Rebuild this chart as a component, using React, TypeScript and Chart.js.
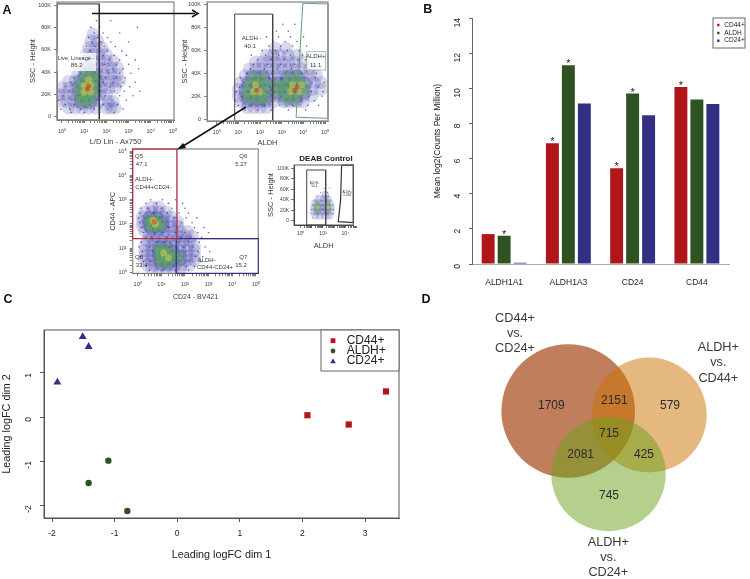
import React, { useEffect, useRef } from "react";
import { Chart, registerables } from "chart.js";

Chart.register(...registerables);
Chart.defaults.font.family = '"Liberation Sans", Arial, sans-serif';

type Row = [number, number[]];
type Box = { l: number; t: number; r: number; b: number };
type Note = { text: string; x: number; y: number; size: number; bold?: boolean; color?: string; rot?: boolean };

/* ---------- Panel B data ---------- */
const genes = ["ALDH1A1", "ALDH1A3", "CD24", "CD44"];
const barCd44 = [1.7, 6.87, 5.45, 10.08];
const barAldh = [1.61, 11.31, 9.7, 9.36];
const barCd24 = [0.07, 9.14, 8.46, 9.1];
const starCd44 = [false, true, true, true];
const starAldh = [true, true, true, false];
const starCd24 = [false, false, false, false];
const barTicks = [0, 2, 4, 6, 8, 10, 12, 14];

/* ---------- Panel C data ---------- */
const mdsCd44 = [{ x: 2.08, y: 0.04 }, { x: 2.74, y: -0.17 }, { x: 3.335, y: 0.58 }];
const mdsAldh = [{ x: -1.1, y: -0.99 }, { x: -1.415, y: -1.497 }, { x: -0.797, y: -2.13 }];
const mdsCd24 = [{ x: -1.51, y: 1.82 }, { x: -1.415, y: 1.594 }, { x: -1.915, y: 0.787 }];

/* ---------- Panel D data ---------- */
const vennCounts = [1709, 2151, 579, 715, 2081, 425, 745];
const vennCircles = [{ x: 138.2, y: 116 }, { x: 219.2, y: 120 }, { x: 178.5, y: 179 }];

/* ---------- Panel A data: x in decades, y in thousands (or decades for the CD44/CD24 plot) ---------- */
const liveHaze: Row[] = [
  [8, [0.3, 0.6, 0.9, 1.2, 1.5, 2.0, 2.2, 2.4]],
  [14, [-0.1, 0.2, 0.5, 0.8, 1.1, 1.4, 1.7, 2.1, 2.3]],
  [20, [-0.1, 0.2, 0.5, 0.8, 1.1, 1.4, 1.7, 2.0]],
  [26, [0, 0.3, 0.6, 0.9, 1.2, 1.5, 1.8, 2.1, 2.4]],
  [32, [0.3, 0.6, 0.9, 1.2, 1.5, 1.8, 2.1, 2.4, 2.6]],
  [38, [0.7, 1.0, 1.3, 1.6, 1.9, 2.2, 2.5]],
  [44, [1.0, 1.3, 1.6, 1.9, 2.2, 2.5]],
  [50, [1.1, 1.4, 1.7, 2.0, 2.3]],
  [56, [1.1, 1.4, 1.7, 2.0]],
  [62, [1.2, 1.5, 1.8]],
  [68, [1.3, 1.6]],
  [74, [1.4]],
];
const liveSpecks: Row[] = [
  [4, [0.4, 1.0, 1.7, 2.35]], [7, [-0.05, 0.35, 0.85, 1.45, 2.05, 2.75]], [11, [0.15, 0.55, 1.25, 1.85, 2.5]],
  [15, [-0.15, 0.45, 1.0, 1.6, 2.25, 2.9]], [19, [0.05, 0.7, 1.3, 1.95, 2.6, 3.2]], [23, [-0.1, 0.3, 0.95, 1.75, 2.35, 2.8, 3.5]],
  [27, [0.15, 0.65, 1.55, 2.15, 2.65, 3.05]], [31, [0.4, 1.05, 1.85, 2.3, 2.75, 3.3]], [35, [0.55, 1.25, 1.95, 2.45, 2.85]],
  [39, [0.85, 1.5, 2.1, 2.6, 3.1]], [43, [1.05, 1.7, 2.3, 2.75, 3.45]], [47, [0.95, 1.35, 1.9, 2.45, 3.0]],
  [51, [1.2, 1.65, 2.15, 2.6, 3.3]], [55, [1.0, 1.45, 1.85, 2.35, 2.9]], [59, [1.25, 1.7, 2.05, 2.7]],
  [63, [1.1, 1.5, 1.9, 2.4]], [67, [1.35, 1.75, 2.2, 3.0]], [71, [1.2, 1.6, 2.05]], [75, [1.45, 1.85, 2.6]],
  [80, [1.3, 1.7, 3.4]], [86, [1.55, 2.2]],
];
const liveGreen: Row[] = [[14, [0.9, 1.2]], [20, [0.8, 1.1, 1.4]], [26, [0.8, 1.1, 1.4]], [32, [0.9, 1.2, 1.5]], [38, [1.1, 1.4]]];
const liveYellow: Row[] = [[22, [1.0, 1.3]], [28, [1.0, 1.3]], [33, [1.2]]];
const liveRed: Row[] = [[25, [1.15]], [28, [1.2]]];
const liveGate = [{ x: -0.225, y: 101 }, { x: 1.68, y: 101 }, { x: 1.68, y: -2.7 }, { x: -0.225, y: -2.7 }, { x: -0.225, y: 101 }];

const aldhHaze: Row[] = [
  [10, [1.4, 1.7, 2.0, 2.3]],
  [15, [1.1, 1.4, 1.7, 2.0, 2.3, 2.6, 3.1, 3.4, 3.7, 4.0]],
  [20, [1.0, 1.3, 1.6, 1.9, 2.2, 2.5, 2.8, 3.1, 3.4, 3.7, 4.0, 4.4]],
  [26, [1.0, 1.3, 1.6, 1.9, 2.2, 2.5, 2.8, 3.1, 3.4, 3.7, 4.0, 4.4, 4.8]],
  [32, [1.1, 1.4, 1.7, 2.0, 2.3, 2.6, 2.9, 3.2, 3.5, 3.8, 4.1, 4.5, 4.8]],
  [38, [1.3, 1.6, 1.9, 2.2, 2.5, 2.8, 3.1, 3.4, 3.7, 4.0, 4.3, 4.6]],
  [44, [1.5, 1.8, 2.1, 2.4, 2.7, 3.0, 3.3, 3.6, 3.9, 4.3]],
  [50, [1.8, 2.1, 2.4, 2.7, 3.0, 3.3, 3.6, 4.0]],
  [56, [2.3, 2.6, 2.9, 3.3, 3.7]],
  [62, [2.7, 3.2]],
];
const aldhSpecks: Row[] = [
  [8, [1.3, 1.9, 2.5, 3.3, 4.1]], [12, [1.0, 1.6, 2.2, 2.9, 3.5, 4.2, 4.7]], [16, [0.85, 1.35, 2.05, 2.55, 3.15, 3.85, 4.5]],
  [20, [1.15, 1.75, 2.35, 2.95, 3.55, 4.25, 4.85]], [24, [0.9, 1.5, 2.65, 3.05, 4.35, 4.9]], [28, [1.05, 1.65, 2.45, 2.85, 4.15, 4.7]],
  [32, [1.25, 2.15, 2.7, 3.25, 4.4, 4.95]], [36, [1.1, 1.85, 2.4, 3.0, 3.75, 4.55]], [40, [1.4, 2.0, 2.55, 3.2, 3.9, 4.6]],
  [44, [1.55, 2.2, 2.8, 3.45, 4.2]], [48, [1.7, 2.35, 2.95, 3.6, 4.35]], [52, [1.9, 2.5, 3.1, 3.75, 4.1]],
  [56, [1.6, 2.25, 2.85, 3.4, 3.95]], [60, [2.1, 2.7, 3.25, 3.8]], [64, [2.4, 2.95, 3.5, 4.15]], [68, [2.6, 3.15, 3.7]],
  [72, [2.3, 2.85, 3.4, 4.0]], [77, [2.75, 3.3]], [83, [3.05, 3.6]],
];
const aldhGreen: Row[] = [
  [18, [1.5, 1.9, 2.2, 3.2, 3.6]], [24, [1.4, 1.8, 2.2, 2.8, 3.2, 3.6, 4.0]],
  [30, [1.5, 1.9, 2.3, 2.8, 3.2, 3.6, 4.0]], [36, [1.7, 2.1, 3.3, 3.7]],
];
const aldhYellow: Row[] = [[24, [1.7, 2.0, 3.4, 3.8]], [30, [1.8, 3.5, 3.9]]];
const aldhRed: Row[] = [[25, [1.85, 3.6]], [28, [3.7]]];
const aldhLowGate = [{ x: 0.83, y: 92 }, { x: 2.58, y: 92 }, { x: 2.58, y: -1.75 }, { x: 0.83, y: -1.75 }, { x: 0.83, y: 92 }];
const aldhHighGate = [{ x: 3.97, y: 101.5 }, { x: 5.13, y: 100.9 }, { x: 5.13, y: 0.6 }, { x: 3.66, y: 1.5 }, { x: 3.97, y: 101.5 }];

const quadHaze: Row[] = [
  [2.7, [0.6, 0.9]], [2.5, [0.3, 0.6, 0.9, 1.2]], [2.3, [0.2, 0.5, 0.8, 1.1, 1.4]], [2.1, [0.2, 0.5, 0.8, 1.1, 1.4, 1.7]],
  [1.9, [0.2, 0.5, 0.8, 1.1, 1.4, 1.7]], [1.7, [0.3, 0.6, 0.9, 1.2, 1.5, 1.8, 2.1]], [1.5, [0.5, 0.8, 1.1, 1.4, 1.7, 2.0, 2.3]],
  [1.3, [0.4, 0.7, 1.0, 1.3, 1.6, 1.9, 2.2]], [1.1, [0.3, 0.6, 0.9, 1.2, 1.5, 1.8, 2.1, 2.4]], [0.9, [0.3, 0.6, 0.9, 1.2, 1.5, 1.8, 2.1, 2.4]],
  [0.7, [0.3, 0.6, 0.9, 1.2, 1.5, 1.8, 2.1, 2.4]], [0.5, [0.3, 0.6, 0.9, 1.2, 1.5, 1.8, 2.1, 2.4]], [0.3, [0.4, 0.7, 1.0, 1.3, 1.6, 1.9, 2.2]],
  [0.1, [0.6, 0.9, 1.2, 1.5, 1.8]],
];
const quadSpecks: Row[] = [
  [3.0, [0.55, 1.05, 1.6]], [2.85, [0.35, 0.8, 1.3, 1.9]], [2.65, [0.15, 0.45, 1.0, 1.45, 2.0]], [2.45, [0.1, 0.7, 1.25, 1.75, 2.15]],
  [2.25, [0.05, 0.35, 0.95, 1.55, 2.05, 2.5]], [2.05, [0.1, 0.4, 1.2, 1.85, 2.3]], [1.85, [0.15, 0.65, 1.3, 1.65, 2.4, 2.8]],
  [1.65, [0.25, 0.7, 1.05, 1.6, 2.0, 2.55, 3.0]], [1.45, [0.35, 0.6, 1.25, 1.85, 2.25, 2.7]], [1.25, [0.15, 0.85, 1.15, 1.75, 2.15, 2.6]],
  [1.05, [0.05, 0.5, 1.35, 1.95, 2.35, 2.85]], [0.85, [0.2, 0.65, 1.05, 1.65, 2.05, 2.55, 3.05]], [0.65, [0.1, 0.75, 1.4, 1.95, 2.45, 2.75]],
  [0.45, [0.25, 0.55, 1.15, 1.75, 2.2, 2.65]], [0.25, [0.35, 0.95, 1.5, 2.05, 2.4]], [0.08, [0.5, 1.05, 1.6, 2.15]],
];
const quadGreen: Row[] = [
  [2.2, [0.5, 0.8]], [2.0, [0.5, 0.8, 1.0]], [1.85, [0.6, 0.9]], [1.0, [0.9, 1.2]], [0.8, [0.9, 1.2, 1.5]],
  [0.6, [0.9, 1.2, 1.5, 1.8]], [0.4, [1.0, 1.3]],
];
const quadYellow: Row[] = [[2.15, [0.65]], [2.0, [0.75]], [0.8, [1.1]], [0.6, [1.3]]];
const quadRed: Row[] = [[2.08, [0.7]]];
const gateQ5 = [{ x: -0.21, y: 1.39 }, { x: 1.66, y: 1.39 }, { x: 1.66, y: 5.1 }, { x: -0.21, y: 5.1 }, { x: -0.21, y: 1.39 }];
const gateQ6 = [{ x: 1.66, y: 1.39 }, { x: 5.1, y: 1.39 }, { x: 5.1, y: 5.1 }, { x: 1.66, y: 5.1 }];
const gateQ7 = [{ x: 1.63, y: 1.39 }, { x: 5.1, y: 1.39 }, { x: 5.1, y: -0.04 }, { x: 1.63, y: -0.04 }, { x: 1.63, y: 1.39 }];
const gateQ8 = [{ x: -0.21, y: 1.39 }, { x: -0.21, y: -0.04 }, { x: 1.63, y: -0.04 }];

const deabHaze: Row[] = [
  [10, [1.3, 1.7, 2.2, 2.6]], [18, [1.2, 1.5, 1.8, 2.1, 2.4, 2.7]], [26, [1.2, 1.5, 1.8, 2.1, 2.4, 2.7]],
  [34, [1.3, 1.6, 2.0, 2.3, 2.6]], [42, [1.6, 2.1, 2.4]], [50, [2.2]],
];
const deabSpecks: Row[] = [
  [6, [1.1, 1.9, 2.6]], [14, [0.9, 1.6, 2.3, 2.9]], [22, [1.0, 2.0, 2.95]], [30, [1.05, 1.95, 2.9]],
  [38, [1.2, 1.9, 2.7]], [46, [1.5, 2.0, 2.5]], [54, [1.8, 2.4]], [62, [2.1, 2.6]], [70, [2.3]],
];
const deabGreen: Row[] = [[22, [1.5, 2.4]], [30, [1.5, 2.4]]];
const deabYellow: Row[] = [[26, [1.5, 2.45]]];
const deabLowGate = [{ x: 0.54, y: 96.8 }, { x: 2.24, y: 96.8 }, { x: 2.24, y: -7.6 }, { x: 0.54, y: -7.6 }, { x: 0.54, y: 96.8 }];
const deabHighGate = [{ x: 3.67, y: 106 }, { x: 4.72, y: 106 }, { x: 4.72, y: -3 }, { x: 3.37, y: -1.3 }, { x: 3.58, y: 40 }, { x: 3.67, y: 106 }];

const kTicks = [0, 20, 40, 60, 80, 100];
const supers = ["⁰", "¹", "²", "³", "⁴", "⁵"];

const expand = (rows: Row[]) => rows.flatMap(([y, xs]) => xs.map((x) => ({ x, y })));
const decadeTicks = () => {
  const out: { value: number }[] = [];
  for (let d = 0; d < 5; d++) for (let m = 1; m < 10; m++) out.push({ value: d + Math.log10(m) });
  out.push({ value: 5 });
  return out;
};

const RED = "#B01519";
const GREEN = "#2F5223";
const BLUE = "#333083";
const TEXT = "#3a3a3a";

function notesPlugin(items: Note[], box: Box) {
  return {
    id: "notes",
    afterDraw(chart: any) {
      const c = chart.ctx;
      c.save();
      c.textAlign = "center";
      c.textBaseline = "middle";
      for (const n of items) {
        c.save();
        c.translate(n.x - box.l, n.y - box.t);
        if (n.rot) c.rotate(-Math.PI / 2);
        c.font = `${n.bold ? "bold " : ""}${n.size}px "Liberation Sans", Arial, sans-serif`;
        c.fillStyle = n.color || TEXT;
        c.fillText(n.text, 0, 0);
        c.restore();
      }
      c.restore();
    },
  };
}

function whiteBoxPlugin(bx: Box, box: Box, stroke?: string) {
  return {
    id: "whiteBox",
    afterDatasetsDraw(chart: any) {
      const c = chart.ctx;
      c.save();
      c.fillStyle = "rgba(255,255,255,0.78)";
      c.fillRect(bx.l - box.l, bx.t - box.t, bx.r - bx.l, bx.b - bx.t);
      if (stroke) {
        c.strokeStyle = stroke;
        c.lineWidth = 0.8;
        c.strokeRect(bx.l - box.l, bx.t - box.t, bx.r - bx.l, bx.b - bx.t);
      }
      c.restore();
    },
  };
}

function framePlugin(color: string, width: number) {
  return {
    id: "frame",
    afterDatasetsDraw(chart: any) {
      const { left, top, right, bottom } = chart.chartArea;
      const c = chart.ctx;
      c.save();
      c.strokeStyle = color;
      c.lineWidth = width;
      c.strokeRect(left, top, right - left, bottom - top);
      c.restore();
    },
  };
}

function legendPlugin(o: { b: Box; box: Box; textX: number; markX: number; rows: number[]; size: number; mark: number; stroke: string; lw: number }) {
  return {
    id: "boxLegend",
    afterDraw(chart: any) {
      const c = chart.ctx;
      const ox = o.box.l;
      const oy = o.box.t;
      c.save();
      c.fillStyle = "#fff";
      c.fillRect(o.b.l - ox, o.b.t - oy, o.b.r - o.b.l, o.b.b - o.b.t);
      c.strokeStyle = o.stroke;
      c.lineWidth = o.lw;
      c.strokeRect(o.b.l - ox, o.b.t - oy, o.b.r - o.b.l, o.b.b - o.b.t);
      c.textBaseline = "middle";
      c.textAlign = "left";
      c.font = `${o.size}px "Liberation Sans", Arial, sans-serif`;
      chart.data.datasets.forEach((d: any, i: number) => {
        const y = o.rows[i] - oy;
        const x = o.markX - ox;
        const s = o.mark;
        c.fillStyle = d.backgroundColor;
        c.beginPath();
        if (d.legendMark === "circle") c.arc(x, y, s, 0, 7);
        else if (d.legendMark === "tri") {
          c.moveTo(x, y - s * 1.1);
          c.lineTo(x + s * 1.15, y + s * 0.9);
          c.lineTo(x - s * 1.15, y + s * 0.9);
          c.closePath();
        } else c.rect(x - s, y - s, 2 * s, 2 * s);
        c.fill();
        c.fillStyle = "#222";
        c.fillText(d.label, o.textX - ox, y);
      });
      c.restore();
    },
  };
}

const starPlugin = {
  id: "stars",
  afterDatasetsDraw(chart: any) {
    const c = chart.ctx;
    c.save();
    c.textAlign = "center";
    c.textBaseline = "middle";
    c.font = '11px "Liberation Sans", Arial, sans-serif';
    c.fillStyle = "#222";
    chart.data.datasets.forEach((d: any, i: number) => {
      chart.getDatasetMeta(i).data.forEach((bar: any, j: number) => {
        if (d.stars[j]) c.fillText("*", bar.x, bar.y - 1);
      });
    });
    c.restore();
  },
};

type Layer = { rows: Row[]; r: number; color: string };

function flowConfig(s: {
  box: Box; plot: Box; xr: [number, number]; yr: [number, number];
  gates: { data: any[]; color: string; w: number }[];
  layers: Layer[]; xTitle: string; yTitle: string; xTitleY: number; yTitleX: number;
  yTicks: "k" | "dec"; xStep: number; tickSize: number; titleSize: number; xPad: number; yPad: number;
  notes: Note[]; extra: any[];
}) {
  const lh = s.titleSize * 1.2;
  const tickColor = "#333";
  return {
    type: "scatter",
    data: {
      datasets: [
        ...s.gates.map((g) => ({ data: g.data, showLine: true, borderColor: g.color, borderWidth: g.w, pointRadius: 0, clip: false, tension: 0 })),
        ...s.layers.map((l) => ({ data: expand(l.rows), pointRadius: l.r, backgroundColor: l.color, borderWidth: 0, pointHoverRadius: l.r })),
      ],
    },
    plugins: [...s.extra, notesPlugin(s.notes, s.box)],
    options: {
      animation: false,
      responsive: false,
      events: [],
      layout: { autoPadding: false, padding: { top: s.plot.t - s.box.t, right: s.box.r - s.plot.r, left: 0, bottom: 0 } },
      plugins: { legend: { display: false }, tooltip: { enabled: false } },
      scales: {
        x: {
          type: "linear", min: s.xr[0], max: s.xr[1],
          afterBuildTicks: (a: any) => { a.ticks = decadeTicks(); },
          afterFit: (a: any) => { a.height = s.box.b - s.plot.b; },
          border: { color: tickColor },
          grid: { drawOnChartArea: false, tickLength: 3, color: "#444", lineWidth: 0.7 },
          ticks: {
            autoSkip: false, maxRotation: 0, padding: s.xPad, color: TEXT, font: { size: s.tickSize },
            callback: (v: number) => (Number.isInteger(v) && v % s.xStep === 0 ? "10" + supers[v] : ""),
          },
          title: { display: true, text: s.xTitle, color: TEXT, font: { size: s.titleSize }, padding: { top: 0, bottom: s.box.b - s.xTitleY - lh / 2 } },
        },
        y: {
          type: "linear", min: s.yr[0], max: s.yr[1],
          afterBuildTicks: (a: any) => { a.ticks = s.yTicks === "k" ? kTicks.map((value) => ({ value })) : decadeTicks(); },
          afterFit: (a: any) => { a.width = s.plot.l - s.box.l; },
          border: { color: tickColor },
          grid: { drawOnChartArea: false, tickLength: 3, color: "#444", lineWidth: 0.7 },
          ticks: {
            autoSkip: false, padding: s.yPad, color: TEXT, font: { size: s.tickSize },
            callback: (v: number) => s.yTicks === "k" ? (v === 0 ? "0" : v + "K") : Number.isInteger(v) ? "10" + supers[v] : "",
          },
          title: { display: true, text: s.yTitle, color: TEXT, font: { size: s.titleSize }, padding: { top: s.yTitleX - s.box.l - lh / 2, bottom: 0 } },
        },
      },
    },
  };
}

const haze = "rgba(58,58,165,0.2)";
const core = "rgba(50,50,160,0.22)";
const speck = "rgba(35,35,150,0.7)";
const green = "rgba(95,175,95,0.5)";
const yellow = "rgba(226,205,70,0.5)";
const redHot = "rgba(215,60,30,0.6)";

const boxes: Record<string, Box> = {
  live: { l: 0, t: -12, r: 190, b: 152 },
  aldh: { l: 173, t: -12, r: 345, b: 154 },
  quad: { l: 100, t: 137, r: 272, b: 305 },
  deab: { l: 262, t: 150, r: 366, b: 256 },
  bars: { l: 420, t: 0, r: 750, b: 292 },
  mds: { l: 0, t: 290, r: 415, b: 572 },
  venn: { l: 420, t: 290, r: 750, b: 579 },
};

const liveCfg = () =>
  flowConfig({
    box: boxes.live, plot: { l: 57, t: 2, r: 174, b: 120 }, xr: [-0.225, 5.045], yr: [-2.7, 102.7],
    gates: [{ data: liveGate, color: "#333", w: 1 }],
    layers: [
      { rows: liveRed, r: 2.5, color: redHot }, { rows: liveYellow, r: 3.5, color: yellow }, { rows: liveGreen, r: 6, color: green },
      { rows: liveSpecks, r: 0.8, color: speck }, { rows: liveGreen, r: 8.5, color: core }, { rows: liveHaze, r: 6.5, color: haze },
    ],
    xTitle: "L/D Lin - Ax750", yTitle: "SSC - Height", xTitleY: 141.7, yTitleX: 33,
    yTicks: "k", xStep: 1, tickSize: 5.5, titleSize: 7.5, xPad: 5, yPad: 3,
    extra: [framePlugin("#9a9a9a", 1.5), whiteBoxPlugin({ l: 57.5, t: 53, r: 96, b: 71 }, boxes.live)],
    notes: [
      { text: "A", x: 7, y: 11, size: 12.5, bold: true, color: "#111" },
      { text: "Live, Lineage -", x: 76, y: 58.3, size: 5.6 },
      { text: "86.2", x: 76.7, y: 65.7, size: 6 },
    ],
  });

const aldhCfg = () =>
  flowConfig({
    box: boxes.aldh, plot: { l: 207, t: 2, r: 328, b: 121 }, xr: [-0.447, 5.13], yr: [-1.75, 102.6],
    gates: [{ data: aldhLowGate, color: "#444", w: 1 }, { data: aldhHighGate, color: "#6d9a78", w: 1 }],
    layers: [
      { rows: aldhRed, r: 2.5, color: redHot }, { rows: aldhYellow, r: 3.5, color: yellow }, { rows: aldhGreen, r: 6, color: green },
      { rows: aldhSpecks, r: 0.8, color: speck }, { rows: aldhGreen, r: 8.5, color: core }, { rows: aldhHaze, r: 6.5, color: haze },
    ],
    xTitle: "ALDH", yTitle: "SSC - Height", xTitleY: 143.3, yTitleX: 185,
    yTicks: "k", xStep: 1, tickSize: 5.5, titleSize: 7.5, xPad: 5, yPad: 3,
    extra: [framePlugin("#9a9a9a", 1.5), whiteBoxPlugin({ l: 306.7, t: 51.7, r: 325.7, b: 70 }, boxes.aldh, "#8fae98")],
    notes: [
      { text: "ALDH -", x: 251.7, y: 38, size: 6 }, { text: "40.1", x: 250, y: 46, size: 6 },
      { text: "ALDH+", x: 315.7, y: 56.7, size: 6 }, { text: "11.1", x: 315.7, y: 65, size: 6 },
    ],
  });

const quadCfg = () =>
  flowConfig({
    box: boxes.quad, plot: { l: 132.7, t: 149, r: 258.3, b: 273.3 }, xr: [-0.21, 5.1], yr: [-0.04, 5.1],
    gates: [
      { data: gateQ5, color: "#a83040", w: 1.3 }, { data: gateQ7, color: "#343080", w: 1.2 },
      { data: gateQ6, color: "#9a9a9a", w: 1.3 }, { data: gateQ8, color: "#9a9a9a", w: 0.8 },
    ],
    layers: [
      { rows: quadRed, r: 2.5, color: redHot }, { rows: quadYellow, r: 3.5, color: yellow }, { rows: quadGreen, r: 5.5, color: green },
      { rows: quadSpecks, r: 0.8, color: speck }, { rows: quadGreen, r: 8, color: core }, { rows: quadHaze, r: 6.5, color: haze },
    ],
    xTitle: "CD24 - BV421", yTitle: "CD44 - APC", xTitleY: 296.7, yTitleX: 112.7,
    yTicks: "dec", xStep: 1, tickSize: 5.5, titleSize: 7, xPad: 5, yPad: 3,
    extra: [],
    notes: [
      { text: "Q5", x: 139, y: 156.7, size: 6 }, { text: "47.1", x: 141.7, y: 164.3, size: 6 },
      { text: "Q6", x: 243.3, y: 156.7, size: 6 }, { text: "5.27", x: 241, y: 164.3, size: 6 },
      { text: "ALDH-", x: 144, y: 179.3, size: 6 }, { text: "CD44+CD24-", x: 153.3, y: 187.3, size: 6 },
      { text: "Q8", x: 139, y: 257.3, size: 6 }, { text: "32.4", x: 141.7, y: 265.3, size: 6 },
      { text: "ALDH-", x: 206.7, y: 260, size: 6 }, { text: "CD44-CD24+", x: 215, y: 267.3, size: 6 },
      { text: "Q7", x: 243.3, y: 257.3, size: 6 }, { text: "15.2", x: 241, y: 265.3, size: 6 },
    ],
  });

const deabCfg = () =>
  flowConfig({
    box: boxes.deab, plot: { l: 294, t: 165, r: 353.3, b: 225 }, xr: [-0.6, 4.72], yr: [-7.6, 106.3],
    gates: [{ data: deabLowGate, color: "#444", w: 1 }, { data: deabHighGate, color: "#333", w: 1.2 }],
    layers: [
      { rows: deabYellow, r: 2, color: yellow }, { rows: deabGreen, r: 3.5, color: green },
      { rows: deabSpecks, r: 0.5, color: speck }, { rows: deabHaze, r: 4, color: haze },
    ],
    xTitle: "ALDH", yTitle: "SSC - Height", xTitleY: 246, yTitleX: 271,
    yTicks: "k", xStep: 2, tickSize: 5, titleSize: 7.5, xPad: 3, yPad: 2,
    extra: [framePlugin("#555", 1)],
    notes: [
      { text: "DEAB Control", x: 326, y: 158.3, size: 8, bold: true, color: "#222" },
      { text: "ALDH-", x: 314.3, y: 183.3, size: 3 }, { text: "54.4", x: 314.3, y: 186, size: 3 },
      { text: "ALDH+", x: 347.3, y: 191.7, size: 3 }, { text: "0.068", x: 347.3, y: 195, size: 3 },
    ],
  });

const barsCfg = () => {
  const box = boxes.bars;
  const plot = { l: 472, t: 18, r: 729, b: 264 };
  return {
    type: "bar",
    data: {
      labels: genes,
      datasets: [
        { label: "CD44+", data: barCd44, backgroundColor: RED, stars: starCd44, legendMark: "rect" },
        { label: "ALDH", data: barAldh, backgroundColor: GREEN, stars: starAldh, legendMark: "rect" },
        { label: "CD24+", data: barCd24, backgroundColor: BLUE, stars: starCd24, legendMark: "rect" },
      ],
    },
    plugins: [
      starPlugin,
      legendPlugin({ b: { l: 713, t: 18, r: 745, b: 48 }, box, textX: 724.3, markX: 718.3, rows: [25, 33, 40.7], size: 6.5, mark: 1.2, stroke: "#666", lw: 1 }),
      notesPlugin([{ text: "B", x: 427.7, y: 10, size: 12.5, bold: true, color: "#111" }], box),
    ],
    options: {
      animation: false,
      responsive: false,
      events: [],
      layout: { autoPadding: false, padding: { top: plot.t - box.t, right: box.r - plot.r, left: 0, bottom: 0 } },
      plugins: { legend: { display: false }, tooltip: { enabled: false } },
      datasets: { bar: { categoryPercentage: 0.746, barPercentage: 0.81 } },
      scales: {
        x: {
          afterFit: (a: any) => { a.height = box.b - plot.b; },
          border: { color: "#aaa" },
          grid: { display: false },
          ticks: { color: "#222", padding: 6, font: { size: 8.5 }, maxRotation: 0 },
        },
        y: {
          min: 0, max: 14,
          afterBuildTicks: (a: any) => { a.ticks = barTicks.map((value) => ({ value })); },
          afterFit: (a: any) => { a.width = plot.l - box.l; },
          border: { color: "#666" },
          grid: { drawOnChartArea: false, tickLength: 3, color: "#666" },
          ticks: { color: "#222", padding: 11, font: { size: 8.5 }, minRotation: 90, maxRotation: 90, align: "center" },
          title: { display: true, text: "Mean log2(Counts Per Million)", color: "#222", font: { size: 8.5 }, padding: { top: 12.9, bottom: 0 } },
        },
      },
    },
  };
};

const mdsCfg = () => {
  const box = boxes.mds;
  const plot = { l: 44, t: 330, r: 399, b: 518 };
  return {
    type: "scatter",
    data: {
      datasets: [
        { label: "CD44+", data: mdsCd44, backgroundColor: RED, pointStyle: "rect", pointRadius: 4.4, borderWidth: 0, legendMark: "rect" },
        { label: "ALDH+", data: mdsAldh, backgroundColor: GREEN, pointStyle: "circle", pointRadius: 3.2, borderWidth: 0, legendMark: "circle" },
        { label: "CD24+", data: mdsCd24, backgroundColor: BLUE, pointStyle: "triangle", pointRadius: 4.6, borderWidth: 0, legendMark: "tri" },
      ],
    },
    plugins: [
      framePlugin("#555", 1),
      legendPlugin({ b: { l: 321, t: 330, r: 399, b: 371 }, box, textX: 346.7, markX: 333, rows: [340.7, 351, 361], size: 12, mark: 2.4, stroke: "#666", lw: 1 }),
      notesPlugin([{ text: "C", x: 8, y: 300, size: 12.5, bold: true, color: "#111" }], box),
    ],
    options: {
      animation: false,
      responsive: false,
      events: [],
      layout: { autoPadding: false, padding: { top: plot.t - box.t, right: box.r - plot.r, left: 0, bottom: 0 } },
      plugins: { legend: { display: false }, tooltip: { enabled: false } },
      scales: {
        x: {
          type: "linear", min: -2.128, max: 3.543,
          afterBuildTicks: (a: any) => { a.ticks = [-2, -1, 0, 1, 2, 3].map((value) => ({ value })); },
          afterFit: (a: any) => { a.height = box.b - plot.b; },
          border: { color: "#555" },
          grid: { drawOnChartArea: false, tickLength: 4, color: "#555" },
          ticks: { color: "#222", padding: 7, font: { size: 8.5 }, maxRotation: 0 },
          title: { display: true, text: "Leading logFC dim 1", color: "#222", font: { size: 10.8 }, padding: { top: 0, bottom: 10.4 } },
        },
        y: {
          type: "linear", min: -2.29, max: 1.973,
          afterBuildTicks: (a: any) => { a.ticks = [-2, -1, 0, 1].map((value) => ({ value })); },
          afterFit: (a: any) => { a.width = plot.l - box.l; },
          border: { color: "#555" },
          grid: { drawOnChartArea: false, tickLength: 4, color: "#555" },
          ticks: { color: "#222", padding: 11, font: { size: 8.5 }, minRotation: 90, maxRotation: 90, align: "center" },
          title: { display: true, text: "Leading logFC dim 2", color: "#222", font: { size: 10.8 }, padding: { top: 0.6, bottom: 0 } },
        },
      },
    },
  };
};

const vennCfg = () => {
  const box = boxes.venn;
  const spots = [
    [551.3, 405.3], [614.3, 400.7], [670, 405.3], [609, 433.7], [580.7, 454.7], [644, 454.7], [609, 495.3],
  ];
  const notes: Note[] = [
    ...vennCounts.map((v, i) => ({ text: String(v), x: spots[i][0], y: spots[i][1], size: 12, color: "#2b2b2b" })),
    { text: "CD44+", x: 515, y: 318.3, size: 12.7 }, { text: "vs.", x: 515, y: 333.7, size: 12.7 }, { text: "CD24+", x: 515, y: 348.3, size: 12.7 },
    { text: "ALDH+", x: 718.3, y: 347.3, size: 12.7 }, { text: "vs.", x: 718.3, y: 362.7, size: 12.7 }, { text: "CD44+", x: 718.3, y: 378.3, size: 12.7 },
    { text: "ALDH+", x: 608.3, y: 542.3, size: 12.7 }, { text: "vs.", x: 608.3, y: 557.7, size: 12.7 }, { text: "CD24+", x: 608.3, y: 572.7, size: 12.7 },
    { text: "D", x: 426, y: 300, size: 12.5, bold: true, color: "#111" },
  ];
  return {
    type: "scatter",
    data: {
      datasets: [
        {
          data: vennCircles,
          pointRadius: [66.8, 57.5, 57.2],
          backgroundColor: ["rgba(171,83,38,0.75)", "rgba(201,113,0,0.5)", "rgba(107,161,25,0.5)"],
          borderWidth: 0,
          clip: false,
        },
      ],
    },
    plugins: [notesPlugin(notes, box)],
    options: {
      animation: false,
      responsive: false,
      events: [],
      layout: { autoPadding: false, padding: 0 },
      plugins: { legend: { display: false }, tooltip: { enabled: false } },
      scales: {
        x: { type: "linear", display: false, min: -10, max: 320 },
        y: { type: "linear", display: false, min: -5, max: 284, reverse: true },
      },
    },
  };
};

function Panel({ box, make }: { box: Box; make: () => any }) {
  const ref = useRef<HTMLCanvasElement>(null);
  useEffect(() => {
    const chart = new Chart(ref.current as HTMLCanvasElement, make());
    return () => chart.destroy();
  }, []);
  return (
    <canvas
      ref={ref}
      width={box.r - box.l}
      height={box.b - box.t}
      style={{ position: "absolute", left: box.l, top: box.t, width: box.r - box.l, height: box.b - box.t, display: "block" }}
    />
  );
}

export default function App() {
  return (
    <div style={{ position: "absolute", left: 0, top: 0, width: 750, height: 579, overflow: "hidden", background: "#fff" }}>
      <Panel box={boxes.live} make={liveCfg} />
      <Panel box={boxes.aldh} make={aldhCfg} />
      <Panel box={boxes.quad} make={quadCfg} />
      <Panel box={boxes.deab} make={deabCfg} />
      <Panel box={boxes.bars} make={barsCfg} />
      <Panel box={boxes.mds} make={mdsCfg} />
      <Panel box={boxes.venn} make={vennCfg} />
      <svg width={750} height={579} style={{ position: "absolute", left: 0, top: 0, pointerEvents: "none" }}>
        <line x1={92} y1={13.5} x2={195} y2={13.5} stroke="#111" strokeWidth={1.5} />
        <polyline points="192,10 198,13.5 192,17" fill="none" stroke="#111" strokeWidth={1.5} />
        <line x1={246} y1={107} x2={180} y2={148} stroke="#111" strokeWidth={1.5} />
        <polygon points="177,149.5 183,143 186,148" fill="#111" />
      </svg>
    </div>
  );
}
